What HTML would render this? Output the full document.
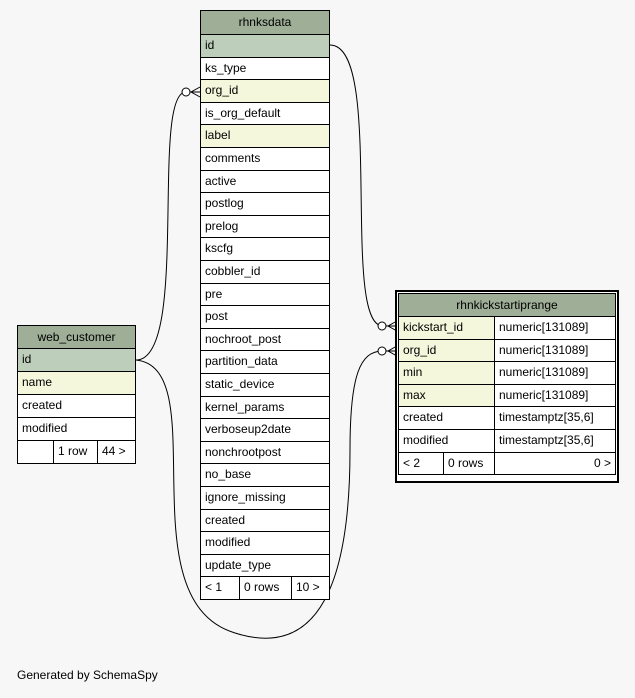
<!DOCTYPE html>
<html><head><style>
body{margin:0;background:#f7f7f7;width:635px;height:698px;position:relative;overflow:hidden;font-family:"Liberation Sans",Arial,sans-serif;font-size:12px;color:#000}
.c{position:absolute;box-sizing:border-box;border:1px solid #000;padding-left:4px;line-height:20px;white-space:nowrap;overflow:hidden}
.h{background:#9eae97;text-align:center;padding:0}
.k{background:#bdcfba}
.f{background:#f4f7dc}
.w{background:#fff}
</style></head><body>
<svg style="position:absolute;left:0;top:0" width="635" height="698">
<g fill="none" stroke="#000" stroke-width="1">
<path d="M330,45 C385,45 340,326 383,326"/>
<path d="M136,360 C190,360 150,92 186,92"/>
<path d="M136,360 C215,368 125,600 235,633 C320,660 350,580 350,450 C350,375 360,351 383,351"/>
<circle cx="186" cy="92" r="4" fill="#fff"/>
<circle cx="382" cy="326" r="4" fill="#fff"/>
<circle cx="382" cy="351" r="4" fill="#fff"/>
<path d="M190,92 L200,92 M200,87 L191,92 L200,97"/>
<path d="M386,326 L397,326 M397,321 L388,326 L397,331"/>
<path d="M386,351 L397,351 M397,346 L388,351 L397,356"/>
</g>
</svg>

<div class="c h" style="left:200px;top:10px;width:130px;height:25px;line-height:23px">rhnksdata</div>
<div id="t1"></div>

<div class="c h" style="left:17px;top:325px;width:119px;height:24px;line-height:22px">web_customer</div>
<div class="c k" style="left:17px;top:348px;width:119px;height:24px">id</div>
<div class="c f" style="left:17px;top:371px;width:119px;height:24px">name</div>
<div class="c w" style="left:17px;top:394px;width:119px;height:24px">created</div>
<div class="c w" style="left:17px;top:417px;width:119px;height:24px">modified</div>
<div class="c w" style="left:17px;top:440px;width:37px;height:24px"></div>
<div class="c w" style="left:53px;top:440px;width:45px;height:24px">1 row</div>
<div class="c w" style="left:97px;top:440px;width:39px;height:24px">44 &gt;</div>

<div style="position:absolute;left:395px;top:290px;width:224px;height:193px;border:2px solid #000;box-sizing:border-box;background:#fff"></div>
<div class="c h" style="left:398px;top:293px;width:218px;height:24px;line-height:22px">rhnkickstartiprange</div>
<div id="t3"></div>

<div style="position:absolute;left:17px;top:668px;font-size:12px">Generated by SchemaSpy</div>
<script>
var cols=["id","ks_type","org_id","is_org_default","label","comments","active","postlog","prelog","kscfg","cobbler_id","pre","post","nochroot_post","partition_data","static_device","kernel_params","verboseup2date","nonchrootpost","no_base","ignore_missing","created","modified","update_type"];
var h='',s=22.6;
cols.forEach(function(c,i){var cl=i==0?'k':(c=='org_id'||c=='label')?'f':'w';
h+='<div class="c '+cl+'" style="left:200px;top:'+(34+i*s)+'px;width:130px;height:'+(s+1)+'px;line-height:'+(s-1)+'px">'+c+'</div>';});
var y=34+24*s;
h+='<div class="c w" style="left:200px;top:'+y+'px;width:40px;height:'+(s+1)+'px;line-height:'+(s-1)+'px">&lt; 1</div>';
h+='<div class="c w" style="left:239px;top:'+y+'px;width:53px;height:'+(s+1)+'px;line-height:'+(s-1)+'px">0 rows</div>';
h+='<div class="c w" style="left:291px;top:'+y+'px;width:39px;height:'+(s+1)+'px;line-height:'+(s-1)+'px">10 &gt;</div>';
document.getElementById('t1').innerHTML=h;
var r=[["kickstart_id","numeric[131089]","f"],["org_id","numeric[131089]","f"],["min","numeric[131089]","f"],["max","numeric[131089]","f"],["created","timestamptz[35,6]","w"],["modified","timestamptz[35,6]","w"]];
h='';s=22.6;
r.forEach(function(a,i){var t=316+i*s;
h+='<div class="c '+a[2]+'" style="left:398px;top:'+t+'px;width:97px;height:'+(s+1)+'px;line-height:'+(s-1)+'px">'+a[0]+'</div>';
h+='<div class="c w" style="left:494px;top:'+t+'px;width:122px;height:'+(s+1)+'px;line-height:'+(s-1)+'px">'+a[1]+'</div>';});
var t=316+6*s;
h+='<div class="c w" style="left:398px;top:'+t+'px;width:46px;height:'+(s+1)+'px;line-height:'+(s-1)+'px">&lt; 2</div>';
h+='<div class="c w" style="left:443px;top:'+t+'px;width:52px;height:'+(s+1)+'px;line-height:'+(s-1)+'px">0 rows</div>';
h+='<div class="c w" style="left:494px;top:'+t+'px;width:122px;height:'+(s+1)+'px;line-height:'+(s-1)+'px;text-align:right;padding-right:4px">0 &gt;</div>';
document.getElementById('t3').innerHTML=h;
</script>
</body></html>
